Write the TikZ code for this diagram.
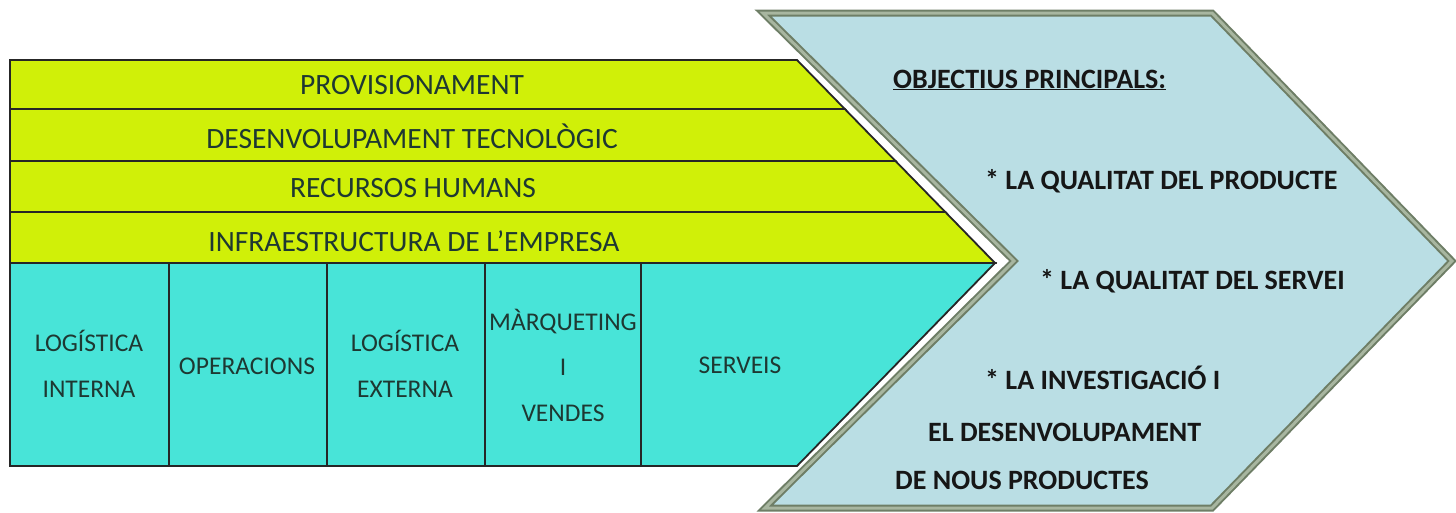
\documentclass[tikz,border=0pt]{standalone}
\usepackage{fontspec}
\setmainfont{Carlito}
\definecolor{lime}{RGB}{208,240,8}
\definecolor{turq}{RGB}{72,228,216}
\definecolor{paleblue}{RGB}{186,222,228}
\definecolor{borddark}{RGB}{110,126,102}
\definecolor{bordlight}{RGB}{168,182,160}
\definecolor{lefttext}{RGB}{30,56,50}
\definecolor{righttext}{RGB}{22,22,22}
\tikzset{
  band/.style={fill=lime,draw=black!85,line width=1.8pt,line join=miter},
  act/.style={fill=turq,draw=black!85,line width=1.8pt},
  sep/.style={draw=black!85,line width=1.8pt},
  toplbl/.style={font=\fontsize{29.5}{32}\selectfont,text=lefttext,inner sep=0pt},
  botlbl/.style={font=\fontsize{25.5}{45.5}\selectfont,text=lefttext,inner sep=0pt,align=center},
  goal/.style={font=\bfseries\fontsize{28}{30}\selectfont,text=righttext,inner sep=0pt,anchor=west},
}
\begin{document}
\begin{tikzpicture}[x=1pt,y=-1pt]
\useasboundingbox (0,0) rectangle (1456,512);
% chevron
\path[fill=paleblue] (763,13) -- (1212,13) -- (1452,261) -- (1212,508) -- (765,508) -- (1014,261) -- cycle;
\draw[borddark,line width=7pt,line join=miter] (763,13) -- (1212,13) -- (1452,261) -- (1212,508) -- (765,508) -- (1014,261) -- cycle;
\draw[bordlight,line width=3pt,line join=miter] (763,13) -- (1212,13) -- (1452,261) -- (1212,508) -- (765,508) -- (1014,261) -- cycle;
% support activities
\draw[band] (10,60) -- (797,60) -- (844.8,109) -- (10,109) -- cycle;
\draw[band] (10,109) -- (844.8,109) -- (895.5,161) -- (10,161) -- cycle;
\draw[band] (10,161) -- (895.5,161) -- (945.3,212) -- (10,212) -- cycle;
\draw[band] (10,212) -- (945.3,212) -- (995,263) -- (10,263) -- cycle;
% primary activities
\draw[act] (10,263) -- (995,263) -- (797,466) -- (10,466) -- cycle;
\coordinate (d1t) at (169,263); \coordinate (d1b) at (169,466);
\coordinate (d2t) at (327,263); \coordinate (d2b) at (327,466);
\coordinate (d3t) at (485,263); \coordinate (d3b) at (485,466);
\coordinate (d4t) at (641,263); \coordinate (d4b) at (641,466);
\draw[sep] (d1t) -- (d1b);
\draw[sep] (d2t) -- (d2b);
\draw[sep] (d3t) -- (d3b);
\draw[sep] (d4t) -- (d4b);
% labels
\node[toplbl] (prov) at (412,85) {PROVISIONAMENT};
\node[toplbl] (desen) at (412,136) {DESENVOLUPAMENT TECNOLÒGIC};
\node[toplbl] (rrhh) at (413,188) {RECURSOS HUMANS};
\node[toplbl] (infra) at (414,241) {INFRAESTRUCTURA DE L’EMPRESA};
\node[botlbl] (li) at (89,364) {LOGÍSTICA\\INTERNA};
\node[botlbl] (op) at (247,366) {OPERACIONS};
\node[botlbl] (le) at (405,364) {LOGÍSTICA\\EXTERNA};
\node[botlbl] (mv) at (563,365) {MÀRQUETING\\I\\VENDES};
\node[botlbl] (serv) at (740,365) {SERVEIS};
\node[goal] (obj) at (893,80) {\underline{OBJECTIUS PRINCIPALS:}};
\node[goal] (g1) at (985,181) {* LA QUALITAT DEL PRODUCTE};
\node[goal] (g2) at (1040,281) {* LA QUALITAT DEL SERVEI};
\node[goal] (g3) at (985,378) {* LA INVESTIGACIÓ I};
\node[goal] (g4) at (928,432) {EL DESENVOLUPAMENT};
\node[goal] (g5) at (895,480) {DE NOUS PRODUCTES};
\end{tikzpicture}
\end{document}
